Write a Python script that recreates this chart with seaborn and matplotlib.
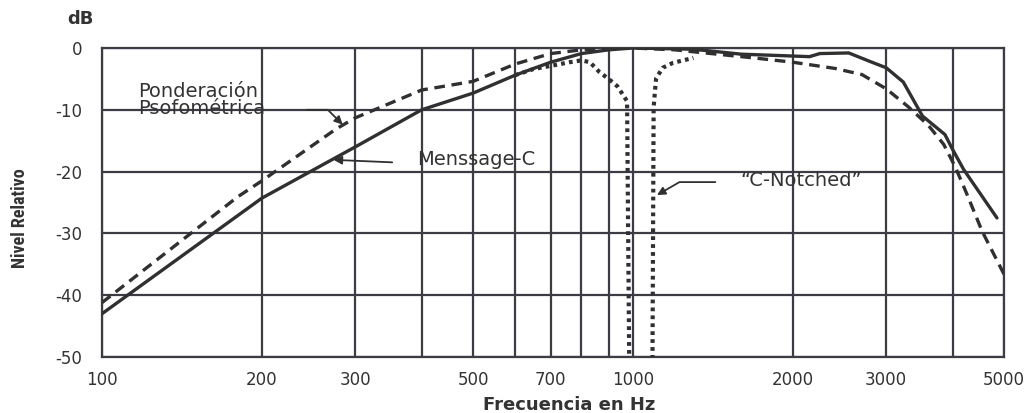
import matplotlib
matplotlib.use("Agg")
import matplotlib.pyplot as plt
from matplotlib import font_manager
from matplotlib.ticker import FixedLocator, FixedFormatter, NullFormatter
import seaborn as sns
import pandas as pd

# ---------------- data ----------------
msg_freq = [100, 200, 300, 400, 500, 600, 700, 800, 900, 1000, 1300, 1600,
            2000, 2150, 2250, 2550, 2800, 3000, 3230, 3510, 3870, 4000, 4200, 4850]
msg_db = [-43, -24.3, -16, -10, -7.3, -4.4, -2.3, -0.9, -0.3, 0, -0.2, -1.0,
          -1.3, -1.4, -0.9, -0.8, -2.2, -3.2, -5.5, -11, -14, -16.4, -19.7, -27.5]

pso_freq = [100, 180, 200, 276, 300, 400, 500, 600, 700, 800, 900, 1000, 1200,
            1730, 2000, 2400, 2700, 3000, 3300, 3600, 3850, 4050, 4250, 4550, 5000]
pso_db = [-41.2, -24.1, -21.5, -13.1, -11.3, -6.8, -5.4, -2.6, -0.9, -0.3, -0.1, 0, -0.3,
          -1.7, -2.3, -3.3, -4.3, -6.6, -9.5, -12.5, -15.6, -19.3, -23.5, -29.7, -36.6]

cn_freq = [600, 650, 700, 760, 800, 830, 865, 900, 935, 975, 985, 1040, 1088,
           1094, 1100, 1106, 1138, 1190, 1300]
cn_db = [-4.4, -3.4, -2.9, -2.3, -2.0, -2.3, -3.9, -5.0, -6.2, -8.6, -55, -70, -55,
         -9.7, -7.1, -4.9, -3.2, -2.4, -1.6]

x_major = [100, 200, 300, 500, 700, 1000, 2000, 3000, 5000]
x_minor = [400, 600, 800, 900, 4000]
x_labels = ["100", "200", "300", "500", "700", "1000", "2000", "3000", "5000"]
y_ticks = [0, -10, -20, -30, -40, -50]
y_labels = ["0", "-10", "-20", "-30", "-40", "-50"]

# ---------------- style ----------------
sns.set_style("white")
plt.rcParams["font.family"] = ["DejaVu Sans"]
names = {f.name for f in font_manager.fontManager.ttflist}
narrow = next((n for n in ["Liberation Sans Narrow", "DejaVu Sans Condensed",
                           "Roboto Condensed"] if n in names), "DejaVu Sans")

ink = "#303030"
gridc = "#3c3c44"
textc = "#333333"

fig = plt.figure(figsize=(10.34, 4.13), dpi=100)
ax = fig.add_axes([102 / 1034, 1 - 357 / 413, (1004 - 102) / 1034, (357 - 48) / 413])

df_msg = pd.DataFrame({"freq": msg_freq, "db": msg_db})
df_pso = pd.DataFrame({"freq": pso_freq, "db": pso_db})
df_cn = pd.DataFrame({"freq": cn_freq, "db": cn_db})

sns.lineplot(data=df_pso, x="freq", y="db", ax=ax, color=ink, lw=2.4,
             linestyle=(0, (3.2, 2.0)), estimator=None, sort=False, zorder=3)
sns.lineplot(data=df_msg, x="freq", y="db", ax=ax, color=ink, lw=2.4,
             estimator=None, sort=False, zorder=4)
sns.lineplot(data=df_cn, x="freq", y="db", ax=ax, color=ink, lw=3.0,
             linestyle=(0, (0.9, 1.0)), estimator=None, sort=False, zorder=3)

ax.set_xscale("log")
ax.set_xlim(100, 5000)
ax.set_ylim(-50, 0)
ax.xaxis.set_major_locator(FixedLocator(x_major))
ax.xaxis.set_major_formatter(FixedFormatter(x_labels))
ax.xaxis.set_minor_locator(FixedLocator(x_minor))
ax.xaxis.set_minor_formatter(NullFormatter())
ax.yaxis.set_major_locator(FixedLocator(y_ticks))
ax.yaxis.set_major_formatter(FixedFormatter(y_labels))

ax.set_axisbelow(True)
ax.grid(True, which="both", axis="x", color=gridc, lw=1.6)
ax.grid(True, which="major", axis="y", color=gridc, lw=1.6)
ax.tick_params(axis="x", which="both", length=5, width=1.6, color=gridc,
               pad=5, labelsize=12, labelcolor=textc, direction="out")
ax.tick_params(axis="y", length=0, pad=14, labelsize=12, labelcolor=textc)
for s in ax.spines.values():
    s.set_color(gridc)
    s.set_linewidth(1.6)
ax.set_xlabel("")
ax.set_ylabel("")

# ---------------- annotations ----------------
arrow_kw = dict(arrowstyle="-|>", color=ink, lw=1.3, mutation_scale=12,
                shrinkA=0, shrinkB=0)

ax.text(116.8, -8.4, "Ponderación\nPsofométrica", ha="left", va="center",
        fontsize=14, color=textc, linespacing=0.9)
ax.annotate("", xy=(284, -12.4), xytext=(243, -10),
            arrowprops=dict(connectionstyle="angle,angleA=0,angleB=-45,rad=0", **arrow_kw))

ax.text(393, -18.1, "Menssage-C", ha="left", va="center", fontsize=14, color=textc)
ax.annotate("", xy=(273, -18.1), xytext=(352, -18.5),
            arrowprops=dict(connectionstyle="arc3,rad=0", **arrow_kw))

ax.text(1596, -21.5, "\u201cC-Notched\u201d", ha="left", va="center", fontsize=14, color=textc)
ax.annotate("", xy=(1110, -23.8), xytext=(1430, -21.7),
            arrowprops=dict(connectionstyle="angle,angleA=0,angleB=30,rad=0", **arrow_kw))

# ---------------- labels ----------------
fig.text(80 / 1034, 1 - 19 / 413, "dB", ha="center", va="center",
         fontsize=13, fontweight="bold", color=textc)
fig.text(20 / 1034, 1 - 218 / 413, "Nivel Relativo", rotation=90, ha="center",
         va="center", fontsize=13, fontweight="bold", color=textc,
         family=[narrow, "DejaVu Sans"])
fig.text(569 / 1034, 1 - 405 / 413, "Frecuencia en Hz", ha="center", va="center",
         fontsize=13, fontweight="bold", color=textc)

fig.savefig("out.png", dpi=100, facecolor="white")
